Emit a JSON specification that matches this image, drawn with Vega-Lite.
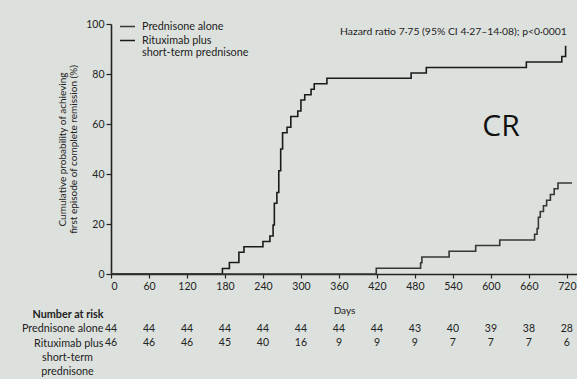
{
  "$schema": "https://vega.github.io/schema/vega-lite/v6.json",
  "autosize": {"type": "pad"},
  "padding": {"left": 21, "top": 18, "right": 0, "bottom": 0},
  "background": "#dde1dd",
  "bounds": "flush",
  "spacing": 33,
  "config": {
    "font": "Lato",
    "view": {"stroke": null},
    "axis": {
      "grid": false,
      "domainColor": "#222222",
      "domainWidth": 1.6,
      "tickColor": "#222222",
      "tickWidth": 1.2,
      "tickSize": 5,
      "labelColor": "#222222",
      "labelFontSize": 10.5,
      "titleColor": "#222222",
      "titleFontWeight": "normal",
      "titleFontSize": 10
    }
  },
  "datasets": {
    "curves": [
      {"group": "Rituximab plus short-term prednisone", "day": 0, "pct": 0},
      {"group": "Rituximab plus short-term prednisone", "day": 176, "pct": 2.2},
      {"group": "Rituximab plus short-term prednisone", "day": 187, "pct": 4.6},
      {"group": "Rituximab plus short-term prednisone", "day": 202, "pct": 8.7},
      {"group": "Rituximab plus short-term prednisone", "day": 210, "pct": 10.9},
      {"group": "Rituximab plus short-term prednisone", "day": 240, "pct": 13.0},
      {"group": "Rituximab plus short-term prednisone", "day": 251, "pct": 15.2},
      {"group": "Rituximab plus short-term prednisone", "day": 256, "pct": 19.6},
      {"group": "Rituximab plus short-term prednisone", "day": 258, "pct": 28.3},
      {"group": "Rituximab plus short-term prednisone", "day": 262, "pct": 32.6},
      {"group": "Rituximab plus short-term prednisone", "day": 265, "pct": 41.3},
      {"group": "Rituximab plus short-term prednisone", "day": 268, "pct": 50.0},
      {"group": "Rituximab plus short-term prednisone", "day": 271, "pct": 56.5},
      {"group": "Rituximab plus short-term prednisone", "day": 278, "pct": 58.7},
      {"group": "Rituximab plus short-term prednisone", "day": 284, "pct": 63.0},
      {"group": "Rituximab plus short-term prednisone", "day": 295, "pct": 65.2},
      {"group": "Rituximab plus short-term prednisone", "day": 300, "pct": 69.6},
      {"group": "Rituximab plus short-term prednisone", "day": 306, "pct": 71.7},
      {"group": "Rituximab plus short-term prednisone", "day": 316, "pct": 73.9},
      {"group": "Rituximab plus short-term prednisone", "day": 321, "pct": 76.1},
      {"group": "Rituximab plus short-term prednisone", "day": 341, "pct": 78.3},
      {"group": "Rituximab plus short-term prednisone", "day": 474, "pct": 80.4},
      {"group": "Rituximab plus short-term prednisone", "day": 498, "pct": 82.6},
      {"group": "Rituximab plus short-term prednisone", "day": 656, "pct": 84.8},
      {"group": "Rituximab plus short-term prednisone", "day": 712, "pct": 87.0},
      {"group": "Rituximab plus short-term prednisone", "day": 718, "pct": 91.3},
      {"group": "Prednisone alone", "day": 0, "pct": 0},
      {"group": "Prednisone alone", "day": 419, "pct": 2.3},
      {"group": "Prednisone alone", "day": 489, "pct": 4.5},
      {"group": "Prednisone alone", "day": 491, "pct": 6.8},
      {"group": "Prednisone alone", "day": 534, "pct": 9.1},
      {"group": "Prednisone alone", "day": 576, "pct": 11.4},
      {"group": "Prednisone alone", "day": 614, "pct": 13.6},
      {"group": "Prednisone alone", "day": 669, "pct": 15.9},
      {"group": "Prednisone alone", "day": 673, "pct": 18.2},
      {"group": "Prednisone alone", "day": 675, "pct": 22.7},
      {"group": "Prednisone alone", "day": 678, "pct": 25.0},
      {"group": "Prednisone alone", "day": 683, "pct": 27.3},
      {"group": "Prednisone alone", "day": 688, "pct": 29.5},
      {"group": "Prednisone alone", "day": 694, "pct": 31.8},
      {"group": "Prednisone alone", "day": 700, "pct": 34.1},
      {"group": "Prednisone alone", "day": 706, "pct": 36.4},
      {"group": "Prednisone alone", "day": 728, "pct": 36.4}
    ],
    "risk": [
      {"row": "Prednisone alone", "day": 0, "n": "44"},
      {"row": "Prednisone alone", "day": 60, "n": "44"},
      {"row": "Prednisone alone", "day": 120, "n": "44"},
      {"row": "Prednisone alone", "day": 180, "n": "44"},
      {"row": "Prednisone alone", "day": 240, "n": "44"},
      {"row": "Prednisone alone", "day": 300, "n": "44"},
      {"row": "Prednisone alone", "day": 360, "n": "44"},
      {"row": "Prednisone alone", "day": 420, "n": "44"},
      {"row": "Prednisone alone", "day": 480, "n": "43"},
      {"row": "Prednisone alone", "day": 540, "n": "40"},
      {"row": "Prednisone alone", "day": 600, "n": "39"},
      {"row": "Prednisone alone", "day": 660, "n": "38"},
      {"row": "Prednisone alone", "day": 720, "n": "28"},
      {"row": "Rituximab plus", "day": 0, "n": "46"},
      {"row": "Rituximab plus", "day": 60, "n": "46"},
      {"row": "Rituximab plus", "day": 120, "n": "46"},
      {"row": "Rituximab plus", "day": 180, "n": "45"},
      {"row": "Rituximab plus", "day": 240, "n": "40"},
      {"row": "Rituximab plus", "day": 300, "n": "16"},
      {"row": "Rituximab plus", "day": 360, "n": "9"},
      {"row": "Rituximab plus", "day": 420, "n": "9"},
      {"row": "Rituximab plus", "day": 480, "n": "9"},
      {"row": "Rituximab plus", "day": 540, "n": "7"},
      {"row": "Rituximab plus", "day": 600, "n": "7"},
      {"row": "Rituximab plus", "day": 660, "n": "7"},
      {"row": "Rituximab plus", "day": 720, "n": "6"}
    ],
    "notes": [
      {"kind": "hr", "day": 720, "pct": 97, "label": "Hazard ratio 7·75 (95% CI 4·27–14·08); p<0·0001"},
      {"kind": "cr", "day": 616, "pct": 59, "label": "CR"}
    ]
  },
  "vconcat": [
    {
      "width": 466,
      "height": 250,
      "encoding": {
        "x": {
          "field": "day", "type": "quantitative",
          "scale": {"domain": [0, 736], "nice": false},
          "axis": {"values": [0, 60, 120, 180, 240, 300, 360, 420, 480, 540, 600, 660, 720], "labelOverlap": false, "title": "Days", "titlePadding": 14, "labelPadding": 3, "tickSize": 4}
        },
        "y": {
          "field": "pct", "type": "quantitative",
          "scale": {"domain": [0, 100], "nice": false},
          "axis": {"values": [0, 20, 40, 60, 80, 100], "title": ["Cumulative probability of achieving", "first episode of complete remission (%)"], "titlePadding": 7, "titleLineHeight": 11.5, "labelPadding": 2}
        }
      },
      "layer": [
        {
          "data": {"name": "curves"},
          "mark": {"type": "line", "interpolate": "step-after", "strokeWidth": 1.6},
          "encoding": {
            "color": {
              "field": "group", "type": "nominal",
              "scale": {"domain": ["Prednisone alone", "Rituximab plus short-term prednisone"], "range": ["#363636", "#1a1a1a"]},
              "legend": {
                "title": null,
                "orient": "none",
                "legendX": 8,
                "legendY": -6,
                "symbolType": "stroke",
                "symbolSize": 225,
                "symbolStrokeWidth": 1.5,
                "labelFontSize": 10.8,
                "labelColor": "#222222",
                "labelOffset": 6,
                "rowPadding": 0,
                "labelExpr": "datum.label == 'Rituximab plus short-term prednisone' ? ['Rituximab plus', 'short-term prednisone'] : datum.label"
              }
            }
          }
        },
        {
          "data": {"name": "notes"},
          "transform": [{"filter": "datum.kind == 'hr'"}],
          "mark": {"type": "text", "align": "right", "baseline": "middle", "fontSize": 10.4, "color": "#222222"},
          "encoding": {
            "text": {"field": "label"}
          }
        },
        {
          "data": {"name": "notes"},
          "transform": [{"filter": "datum.kind == 'cr'"}],
          "mark": {"type": "text", "align": "center", "baseline": "middle", "fontSize": 30, "font": "Open Sans", "color": "#111111"},
          "encoding": {
            "text": {"field": "label"}
          }
        }
      ]
    },
    {
      "width": 466,
      "height": 72,
      "data": {"name": "risk"},
      "mark": {"type": "text", "fontSize": 10.5, "color": "#222222", "baseline": "middle"},
      "encoding": {
        "x": {
          "field": "day", "type": "quantitative",
          "scale": {"domain": [0, 736], "nice": false},
          "axis": null
        },
        "y": {
          "field": "row", "type": "nominal",
          "scale": {"domain": ["Number at risk", "Prednisone alone", "Rituximab plus", "short-term", "prednisone"]},
          "axis": {
            "title": null,
            "domain": false,
            "ticks": false,
            "labelFontSize": 10.8,
            "labelColor": "#222222",
            "labelFontWeight": {"condition": {"test": "datum.value == 'Number at risk'", "value": "bold"}, "value": "normal"},
            "labelAlign": {"condition": {"test": "datum.value == 'short-term' || datum.value == 'prednisone'", "value": "center"}, "value": "right"},
            "labelPadding": {"condition": {"test": "datum.value == 'short-term' || datum.value == 'prednisone'", "value": 44}, "value": 8}
          }
        },
        "text": {"field": "n"}
      }
    }
  ]
}
